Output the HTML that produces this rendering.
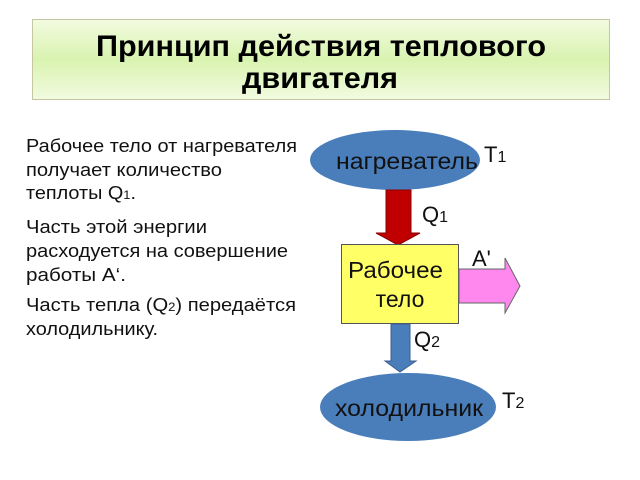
<!DOCTYPE html>
<html><head><meta charset="utf-8"><style>
html,body{margin:0;padding:0;background:#fff;}
svg{display:block;}
</style></head><body>
<svg width="640" height="480" viewBox="0 0 640 480" xmlns="http://www.w3.org/2000/svg" font-family="Liberation Sans, DejaVu Sans, sans-serif">
<defs>
<linearGradient id="g" x1="0" y1="0" x2="0" y2="1">
<stop offset="0" stop-color="#f2fbe0"/>
<stop offset="0.5" stop-color="#d9f3b0"/>
<stop offset="1" stop-color="#f2fbe0"/>
</linearGradient>
</defs>
<rect x="32.5" y="19.5" width="577" height="80" fill="url(#g)" stroke="#c6c7a0"/>
<text x="96" y="56" font-size="30" font-weight="bold" textLength="450" lengthAdjust="spacingAndGlyphs">Принцип действия теплового</text>
<text x="242" y="88" font-size="30" font-weight="bold" textLength="156" lengthAdjust="spacingAndGlyphs">двигателя</text>

<g font-size="18.5" fill="#111" lengthAdjust="spacingAndGlyphs">
<text x="26" y="152" textLength="271" lengthAdjust="spacingAndGlyphs">Рабочее тело от нагревателя</text>
<text x="26" y="176" textLength="196" lengthAdjust="spacingAndGlyphs">получает количество</text>
<text x="26" y="199" textLength="110" lengthAdjust="spacingAndGlyphs">теплоты Q<tspan font-size="12">1</tspan>.</text>
<text x="26" y="233" textLength="181" lengthAdjust="spacingAndGlyphs">Часть этой энергии</text>
<text x="26" y="257" textLength="262" lengthAdjust="spacingAndGlyphs">расходуется на совершение</text>
<text x="26" y="281" textLength="100" lengthAdjust="spacingAndGlyphs">работы А‘.</text>
<text x="26" y="311" textLength="270" lengthAdjust="spacingAndGlyphs">Часть тепла (Q<tspan font-size="12">2</tspan>) передаётся</text>
<text x="26" y="335" textLength="132" lengthAdjust="spacingAndGlyphs">холодильнику.</text>
</g>

<ellipse cx="395" cy="160" rx="85" ry="30" fill="#4a7ebb"/>
<text x="336" y="169" font-size="23" textLength="142" lengthAdjust="spacingAndGlyphs" fill="#111">нагреватель</text>
<text x="484" y="162" font-size="22" fill="#111">T<tspan font-size="16">1</tspan></text>

<polygon points="386,190 411,190 411,233 420,233 398,245 376,233 386,233" fill="#c00000" stroke="#8b0000"/>
<text x="422" y="222" font-size="22" fill="#111">Q<tspan font-size="16">1</tspan></text>

<rect x="341.5" y="244.5" width="117" height="79" fill="#ffff66" stroke="#555"/>
<text x="348" y="278" font-size="23" textLength="95" lengthAdjust="spacingAndGlyphs" fill="#111">Рабочее</text>
<text x="400" y="307" font-size="23" text-anchor="middle" fill="#111">тело</text>

<polygon points="459,269 505,269 505,258 520,286 505,313 505,303 459,303" fill="#ff88ee" stroke="#666"/>
<text x="472" y="266" font-size="22" fill="#111">A'</text>

<polygon points="391,324 410,324 410,361 416,361 400,372 385,361 391,361" fill="#4a7ebb" stroke="#3a5f8f"/>
<text x="414" y="347" font-size="22" fill="#111">Q<tspan font-size="16">2</tspan></text>

<ellipse cx="408" cy="407" rx="88" ry="34" fill="#4a7ebb"/>
<text x="335" y="416" font-size="23" textLength="148" lengthAdjust="spacingAndGlyphs" fill="#111">холодильник</text>
<text x="502" y="408" font-size="22" fill="#111">T<tspan font-size="16">2</tspan></text>
</svg>
</body></html>
